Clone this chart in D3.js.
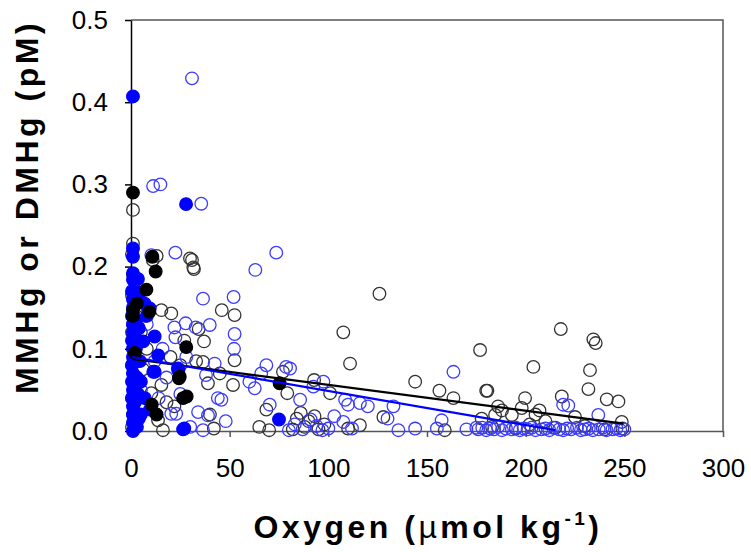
<!doctype html>
<html>
  <head>
    <meta charset="utf-8">
    <title>MMHg / DMHg vs oxygen</title>
    <script src="https://cdn.jsdelivr.net/npm/d3@7"></script>
    <style>
      body { margin: 0; background: #fff; }
      text { font-family: Arial, "Liberation Sans", sans-serif; }
    </style>
  </head>
  <body>
    <script>
      // [oxygen, concentration]
      const blackOpen = [
        [1,0.269],[1,0.228],[0.5,0.215],[1,0.19],[0.5,0.165],[1,0.13],[0.5,0.12],[1,0.10],
        [0.5,0.08],[1,0.06],[0.5,0.04],[1,0.02],[0.5,0.005],
        [13,0.213],[11,0.208],[15.4,0.147],[20.4,0.143],[30.9,0.208],[31.9,0.197],[29.9,0.210],
        [31.6,0.199],[46,0.147],[52.5,0.141],[34.3,0.124],[37,0.109],[52.5,0.086],[36.5,0.084],
        [39,0.058],[51.7,0.056],[77,0.072],[79.2,0.046],[68.6,0.026],[65,0.005],[70,0.001],
        [15.4,0.056],[10.3,0.046],[13.7,0.013],[16.2,0.001],[20,0.09],[25,0.08],[5,0.12],
        [8,0.10],[18,0.035],[22,0.03],[40,0.02],[42,0.003],[27,0.11],[33,0.085],[45,0.07],
        [6,0.075],[3,0.16],[7,0.14],
        [125.9,0.167],[107.6,0.120],[111,0.082],[176.9,0.0985],[144,0.060],[156.3,0.049],
        [163.4,0.040],[180,0.049],[92.8,0.062],[100.9,0.046],[127.9,0.017],[116,0.007],
        [159,0.001],[110,0.003],[84,0.015],[88,0.005],[90,0.012],[95,0.002],[86,0.022],
        [93,0.018],[98,0.008],[82,0.002],
        [217.8,0.124],[234.3,0.1115],[235.5,0.107],[203.9,0.078],[232.6,0.074],[180.6,0.049],
        [231.8,0.051],[241.1,0.0385],[247,0.036],[199.7,0.040],[218.3,0.042],[198,0.028],
        [205,0.020],[184.5,0.0195],[193,0.0195],[225,0.017],[248.7,0.011],[177.7,0.015],
        [188,0.025],[210,0.012],[202,0.008],[183,0.005],[195,0.003],[215,0.004],[230,0.006],
        [240,0.002],[249,0.003],[186,0.03],[207,0.025]
      ];

      const blueOpen = [
        [30.9,0.429],[11.2,0.298],[14.9,0.300],[35.6,0.2765],[10.3,0.214],[22.5,0.217],
        [63,0.196],[73.6,0.217],[36.5,0.161],[52,0.163],[27.7,0.131],[32.8,0.126],[39.9,0.129],
        [22,0.126],[22.5,0.114],[52.5,0.118],[52.2,0.100],[42.4,0.082],[38,0.068],[62.7,0.052],
        [68.6,0.080],[78.6,0.078],[70.3,0.032],[80,0.001],[45.8,0.038],[34,0.023],[39,0.019],
        [36.5,0.001],[20.4,0.021],[22.9,0.021],[16,0.10],[18,0.065],[8,0.13],[12,0.085],
        [25,0.045],[28,0.09],[44,0.04],[30,0.005],[48,0.012],[5,0.05],[7,0.03],[14,0.04],
        [60,0.06],[66,0.07],
        [80.6,0.076],[97.5,0.060],[92.4,0.054],[85.7,0.038],[108.5,0.038],[110,0.032],
        [116,0.034],[120,0.030],[133,0.030],[130,0.015],[135.5,0.001],[144,0.003],[157.4,0.013],
        [163.4,0.072],[107.6,0.011],[100,0.003],[83,0.008],[87,0.002],[91,0.014],[94,0.006],
        [97,0.001],[103,0.018],[112,0.003],[155,0.003],[170,0.002],[175,0.004],
        [219,0.032],[221.6,0.031],[236.8,0.0195],
        [176,0.002],[178,0.004],[180,0.001],[182,0.003],[184,0.002],[186,0.005],[188,0.001],
        [190,0.003],[193,0.002],[195,0.004],[197,0.001],[199,0.003],[201,0.002],[203,0.004],
        [205,0.001],[208,0.002],[210,0.003],[212,0.001],[214,0.004],[217,0.002],[219,0.001],
        [221,0.003],[223,0.002],[226,0.004],[228,0.001],[230,0.002],[232,0.003],[234,0.001],
        [237,0.002],[239,0.004],[241,0.001],[244,0.002],[246,0.003],[248,0.001],[250,0.002]
      ];

      const blackFilled = [
        [1,0.290],[10.8,0.212],[12.5,0.194],[7.8,0.172],[1,0.147],[1,0.14],[28,0.102],
        [9.3,0.145],[24.7,0.066],[28.2,0.042],[26.4,0.040],[24.3,0.064],[10.5,0.032],
        [75.3,0.058],[2,0.095],[3,0.155],[13,0.02]
      ];

      const blueFilled = [
        [1,0.407],[27.9,0.276],[1,0.222],[1,0.212],[1,0.192],[1,0.184],[2,0.172],[6.9,0.155],
        [9.5,0.149],[10.3,0.026],[26.4,0.002],[75,0.014],[12,0.072],[23.8,0.076],[12,0.115],
        [6.2,0.109],[13.8,0.092],[9.6,0.026],[11.3,0.072],[24,0.074],
        [1,0.0],[1,0.01],[1,0.02],[1,0.03],[0.5,0.04],[1,0.05],[0.5,0.06],[1,0.07],[0.5,0.08],
        [1,0.09],[1,0.10],[0.5,0.11],[1,0.12],[1,0.13],[0.5,0.14],[1,0.15],[1,0.16],[0.5,0.17],
        [3,0.005],[2,0.035],[3,0.065],[4,0.125],[2.5,0.1],[5,0.02],[7,0.04],[8,0.14],[27,0.003],
        [3.5,0.185],[4,0.165],[3,0.11],[4.5,0.085],[3.5,0.045],[4,0.015],[2.5,0.135],[5,0.06]
      ];

      // trend lines, start and end points
      const blackTrend = [[0.5,0.0876],[249.5,0.009]];
      const blueTrend = [[0.5,0.090],[215,0.001]];

      const xTicks = [0, 50, 100, 150, 200, 250, 300];
      const yTicks = [0, 0.1, 0.2, 0.3, 0.4, 0.5];

      const svgWidth = 751;
      const svgHeight = 552;

      const svg = d3.select('body').append('svg')
          .attr('width', svgWidth)
          .attr('height', svgHeight);

      const x = d3.scaleLinear().domain([0, 300]).range([131, 723]);
      const y = d3.scaleLinear().domain([0, 0.5]).range([431, 20]);

      // frame: top and right
      svg.append('path')
          .attr('d', `M${x(0)},${y(0.5)}H${x(300)}V${y(0)}`)
          .attr('fill', 'none')
          .attr('stroke', '#555')
          .attr('stroke-width', 1.5);

      // x axis
      const xAxis = svg.append('g')
          .attr('transform', `translate(0,${y(0)})`)
          .call(d3.axisBottom(x).tickValues(xTicks).tickSize(6).tickPadding(22).tickSizeOuter(0));
      xAxis.select('.domain').attr('stroke', '#555').attr('stroke-width', 1.5);
      xAxis.selectAll('line').attr('stroke', '#555').attr('stroke-width', 1.5);
      xAxis.selectAll('text')
          .attr('font-size', 26)
          .attr('font-family', 'Arial, "Liberation Sans", sans-serif')
          .attr('fill', '#000');

      // y axis
      const yAxis = svg.append('g')
          .attr('transform', `translate(${x(0)},0)`)
          .call(d3.axisLeft(y).tickValues(yTicks).tickFormat(d3.format('.1f')).tickSize(6).tickPadding(17).tickSizeOuter(0));
      yAxis.select('.domain').attr('stroke', '#000').attr('stroke-width', 1.5);
      yAxis.selectAll('line').attr('stroke', '#000').attr('stroke-width', 1.5);
      yAxis.selectAll('text')
          .attr('font-size', 26)
          .attr('font-family', 'Arial, "Liberation Sans", sans-serif')
          .attr('fill', '#000');

      // points
      function drawPoints(data, fill, stroke) {
        svg.append('g')
          .selectAll('circle')
          .data(data)
          .enter().append('circle')
            .attr('cx', d => x(d[0]))
            .attr('cy', d => y(d[1]))
            .attr('r', 6.3)
            .attr('fill', fill)
            .attr('stroke', stroke)
            .attr('stroke-width', 1.3);
      }
      drawPoints(blackOpen, 'none', '#333');
      drawPoints(blueOpen, 'none', '#3b3bff');
      drawPoints(blueFilled, '#0000ff', '#0000ff');
      drawPoints(blackFilled, '#000', '#000');

      // trend lines
      const line = d3.line().x(d => x(d[0])).y(d => y(d[1]));
      svg.append('path')
          .datum(blackTrend)
          .attr('d', line)
          .attr('fill', 'none')
          .attr('stroke', '#000')
          .attr('stroke-width', 2.2);
      svg.append('path')
          .datum(blueTrend)
          .attr('d', line)
          .attr('fill', 'none')
          .attr('stroke', '#0000ff')
          .attr('stroke-width', 2.2);

      // axis titles
      svg.append('text')
          .attr('transform', 'translate(38,207) rotate(-90)')
          .attr('text-anchor', 'middle')
          .attr('font-size', 32)
          .attr('font-weight', 'bold')
          .attr('letter-spacing', 3.5)
          .text('MMHg or DMHg (pM)');

      const xTitle = svg.append('text')
          .attr('x', 428)
          .attr('y', 538)
          .attr('text-anchor', 'middle')
          .attr('font-size', 32)
          .attr('font-weight', 'bold')
          .attr('letter-spacing', 3.5);
      xTitle.append('tspan').text('Oxygen (');
      xTitle.append('tspan').attr('font-weight', 'normal').text('\u00b5');
      xTitle.append('tspan').text('mol kg');
      xTitle.append('tspan').attr('font-size', 19).attr('dy', -13).text('-1');
      xTitle.append('tspan').attr('dy', 13).text(')');
    </script>
  </body>
</html>
